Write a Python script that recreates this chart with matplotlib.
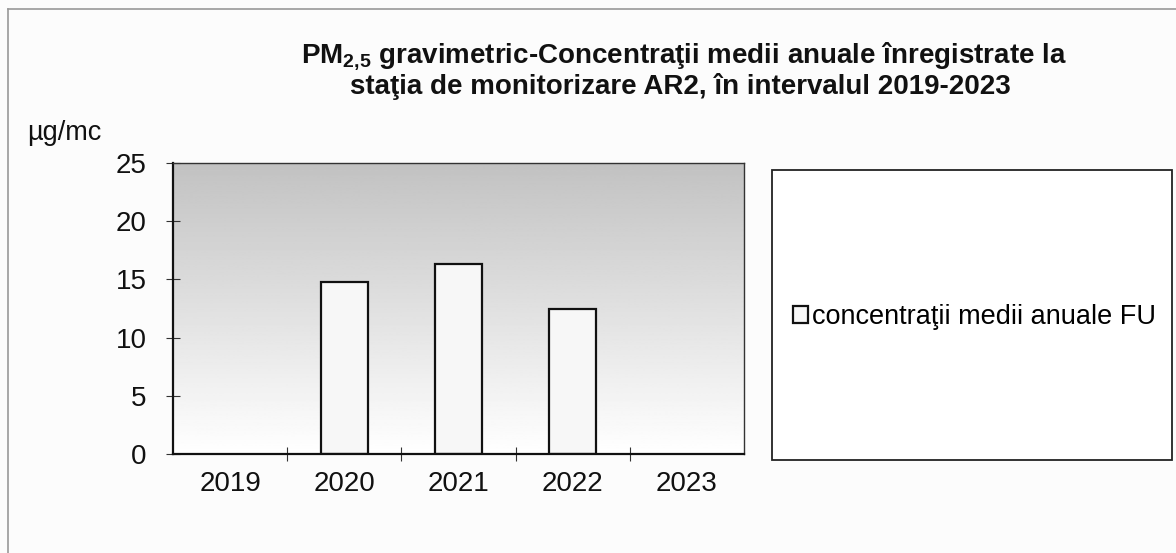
import numpy as np
import matplotlib
matplotlib.use("Agg")
import matplotlib.pyplot as plt
from matplotlib import font_manager
from matplotlib.patches import Rectangle
from matplotlib.lines import Line2D

names = sorted(set(f.name for f in font_manager.fontManager.ttflist))

years = ["2019", "2020", "2021", "2022", "2023"]
conc = [np.nan, 14.8, 16.3, 12.5, np.nan]
series_name = "concentraţii medii anuale FU"
yticks = [0, 5, 10, 15, 20, 25]

title_font = "Liberation Sans Narrow" if "Liberation Sans Narrow" in names else "Liberation Sans"
plt.rcParams["font.family"] = ["Liberation Sans", "DejaVu Sans"]
plt.rcParams["mathtext.fontset"] = "custom"
plt.rcParams["mathtext.bf"] = "Liberation Sans:bold"
plt.rcParams["mathtext.rm"] = "Liberation Sans"

W, H = 1176, 553
fig = plt.figure(figsize=(W / 100, H / 100), dpi=100)
fig.patch.set_facecolor("#fcfcfc")

ax = fig.add_axes([173 / W, 1 - 454 / H, (744 - 173) / W, (454 - 163) / H])
x = np.arange(len(years))

# grey gradient of the plot area, darker at the top
grad = np.linspace(0.76, 1.0, 256).reshape(-1, 1)
ax.imshow(grad, extent=[-0.5, 4.5, 0, 25], aspect="auto", cmap="gray",
          vmin=0, vmax=1, zorder=0, origin="upper")
ax.set_ylim(0, 25)
ax.set_xlim(-0.5, 4.5)

bars = ax.bar(x, conc, width=0.41, color="#f7f7f7", edgecolor="#111111",
              linewidth=1.6, zorder=2, label=series_name)

ax.set_yticks(yticks)
ax.set_yticklabels([str(v) for v in yticks])
ax.set_xticks(x)
ax.set_xticklabels(years)
ax.set_xticks(np.arange(0.5, 4.5, 1), minor=True)
ax.tick_params(axis="x", which="major", length=0, pad=12, labelsize=20, colors="#111111")
ax.tick_params(axis="x", which="minor", direction="inout", length=10, width=0.8, color="#333333")
ax.tick_params(axis="y", direction="inout", length=10, width=0.8, pad=14,
               labelsize=20, color="#333333", labelcolor="#111111")
for s in ["left", "bottom"]:
    ax.spines[s].set_linewidth(1.6)
    ax.spines[s].set_color("#111111")
for s in ["top", "right"]:
    ax.spines[s].set_linewidth(1.0)
    ax.spines[s].set_color("#333333")

fig.text(27 / W, 1 - 140 / H, "µg/mc", fontsize=19.5, ha="left", va="baseline", color="#111111")

# title
fig.text(684 / W, 1 - 63 / H, "PM$_{\\mathbf{2{,}5}}$ gravimetric-Concentraţii medii anuale înregistrate la",
         fontsize=20, fontweight="bold", family=[title_font, "DejaVu Sans"],
         ha="center", va="baseline", color="#111111")
fig.text(680 / W, 1 - 94 / H, "staţia de monitorizare AR2, în intervalul 2019-2023",
         fontsize=20, fontweight="bold", family=[title_font, "DejaVu Sans"],
         ha="center", va="baseline", color="#111111")

# legend box
fig.patches.append(Rectangle((772 / W, 1 - 460 / H), 400 / W, 290 / H,
                             transform=fig.transFigure, facecolor="white",
                             edgecolor="#222222", linewidth=1.3, zorder=0))
fig.legend(handles=[bars], labels=[series_name], loc="center left",
           bbox_to_anchor=(793 / W, 1 - 317 / H), frameon=False, fontsize=19.5,
           handlelength=0.55, handleheight=0.55, handletextpad=0.15, borderpad=0,
           borderaxespad=0)

# outer frame of the scanned chart
fig.add_artist(Line2D([8 / W, 8 / W], [0, 1 - 9 / H], transform=fig.transFigure,
                      color="#999999", linewidth=1.2))
fig.add_artist(Line2D([8 / W, 1], [1 - 9 / H, 1 - 9 / H], transform=fig.transFigure,
                      color="#999999", linewidth=1.2))

fig.savefig("out.png", dpi=100, facecolor=fig.get_facecolor())
